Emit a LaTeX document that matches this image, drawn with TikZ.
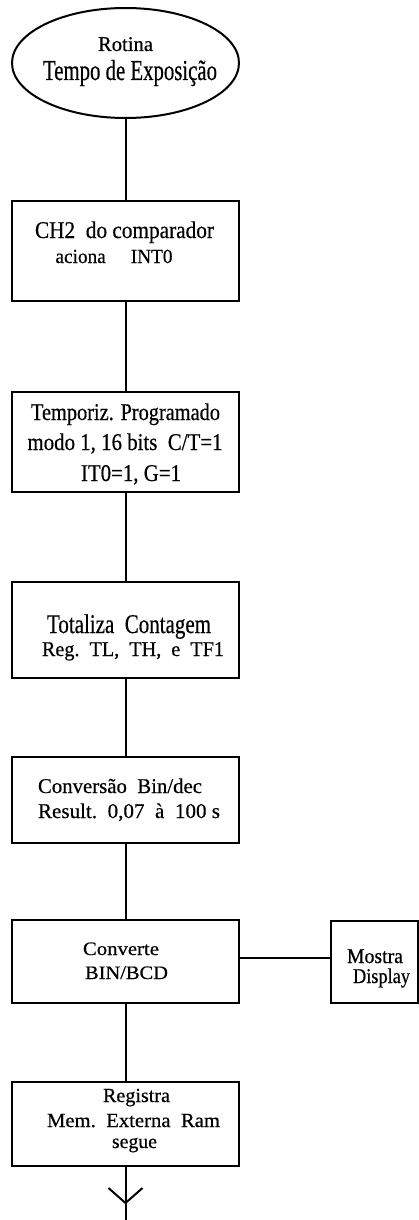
\documentclass[tikz,border=0pt]{standalone}
\usepackage{fontspec}
\setmainfont{Liberation Serif}[UprightFeatures={FakeBold=0.5}]
\usepackage{graphicx}
\usetikzlibrary{shapes.geometric}
\newcommand\tw[2]{\resizebox{#1pt}{\height}{#2}}
\tikzset{
  boxnode/.style={draw, rectangle, inner sep=0pt, line width=2pt},
  ovalnode/.style={draw, ellipse, inner sep=0pt, line width=2pt},
  ln/.style={anchor=base, inner sep=0pt, outer sep=0pt},
  conn/.style={draw, line width=2pt},
  fs/.style={font=\fontsize{#1pt}{#1pt}\selectfont}
}
\begin{document}
\begin{tikzpicture}[x=1pt, y=-1pt]
\useasboundingbox (0,0) rectangle (419,1220);
\fill[white] (0,0) rectangle (419,1220);

% shapes
\node[ovalnode, minimum width=227pt, minimum height=110pt] (start) at (125.5,63) {};
\node[boxnode, minimum width=227pt, minimum height=100pt] (b1) at (125.5,251) {};
\node[boxnode, minimum width=227pt, minimum height=100pt] (b2) at (125.5,442) {};
\node[boxnode, minimum width=227pt, minimum height=96pt]  (b3) at (125.5,630) {};
\node[boxnode, minimum width=227pt, minimum height=86pt]  (b4) at (125.5,800) {};
\node[boxnode, minimum width=227pt, minimum height=83pt]  (b5) at (125.5,961.5) {};
\node[boxnode, minimum width=87pt,  minimum height=82pt]  (disp) at (374.5,962) {};
\node[boxnode, minimum width=227pt, minimum height=84pt]  (b6) at (125.5,1124) {};

% texts
\node[ln, fs=21] (t0a) at (125.5,51) {\tw{55}{Rotina}};
\node[ln, fs=29] (t0b) at (130,80) {\tw{174}{Tempo de Exposição}};

\node[ln, fs=24] (t1a) at (124.5,238) {\tw{179}{CH2\ \ do comparador}};
\node[ln, fs=20] (t1b) at (114,263) {\tw{117}{aciona\hspace{1.3em}INT0}};

\node[ln, fs=24] (t2a) at (125.5,420) {\tw{189}{Temporiz. Programado}};
\node[ln, fs=24] (t2b) at (125,450) {\tw{195}{modo 1, 16 bits\ \ C/T=1}};
\node[ln, fs=24] (t2c) at (131,481) {\tw{100}{IT0=1, G=1}};

\node[ln, fs=27] (t3a) at (129,633) {\tw{164}{Totaliza\ \ Contagem}};
\node[ln, fs=21] (t3b) at (133,656) {\tw{182}{Reg.\ \ TL,\ \ TH,\ \ e\ \ TF1}};

\node[ln, fs=21] (t4a) at (120,793) {\tw{164}{Conversão\ \ Bin/dec}};
\node[ln, fs=21] (t4b) at (129,818) {\tw{182}{Result.\ \ 0,07\ \ à\ \ 100 s}};

\node[ln, fs=19] (t5a) at (121,955) {\tw{76}{Converte}};
\node[ln, fs=19] (t5b) at (126.5,979) {\tw{83}{BIN/BCD}};

\node[ln, fs=21] (tda) at (375,963) {\tw{56}{Mostra}};
\node[ln, fs=21] (tdb) at (381.5,983) {\tw{57}{Display}};

\node[ln, fs=20] (t6a) at (136.5,1102) {\tw{67}{Registra}};
\node[ln, fs=20] (t6b) at (133.5,1127) {\tw{173}{Mem.\ \ Externa\ \ Ram}};
\node[ln, fs=20] (t6c) at (134.5,1148) {\tw{45}{segue}};

% connectors
\coordinate (tip) at (125.5,1203);
\coordinate (endpt) at (125.5,1221);
\draw[conn] (start.south) -- (b1.north);
\draw[conn] (b1.south) -- (b2.north);
\draw[conn] (b2.south) -- (b3.north);
\draw[conn] (b3.south) -- (b4.north);
\draw[conn] (b4.south) -- (b5.north);
\draw[conn] (b5.south) -- (b6.north);
\draw[conn] ([yshift=3.5pt]b5.east) -- ([yshift=3.5pt]b5.east -| disp.west);
\draw[conn] (b6.south) -- (endpt);
\draw[conn] (tip) ++(-17,-15) -- (tip) -- ++(17,-15);
\end{tikzpicture}
\end{document}
